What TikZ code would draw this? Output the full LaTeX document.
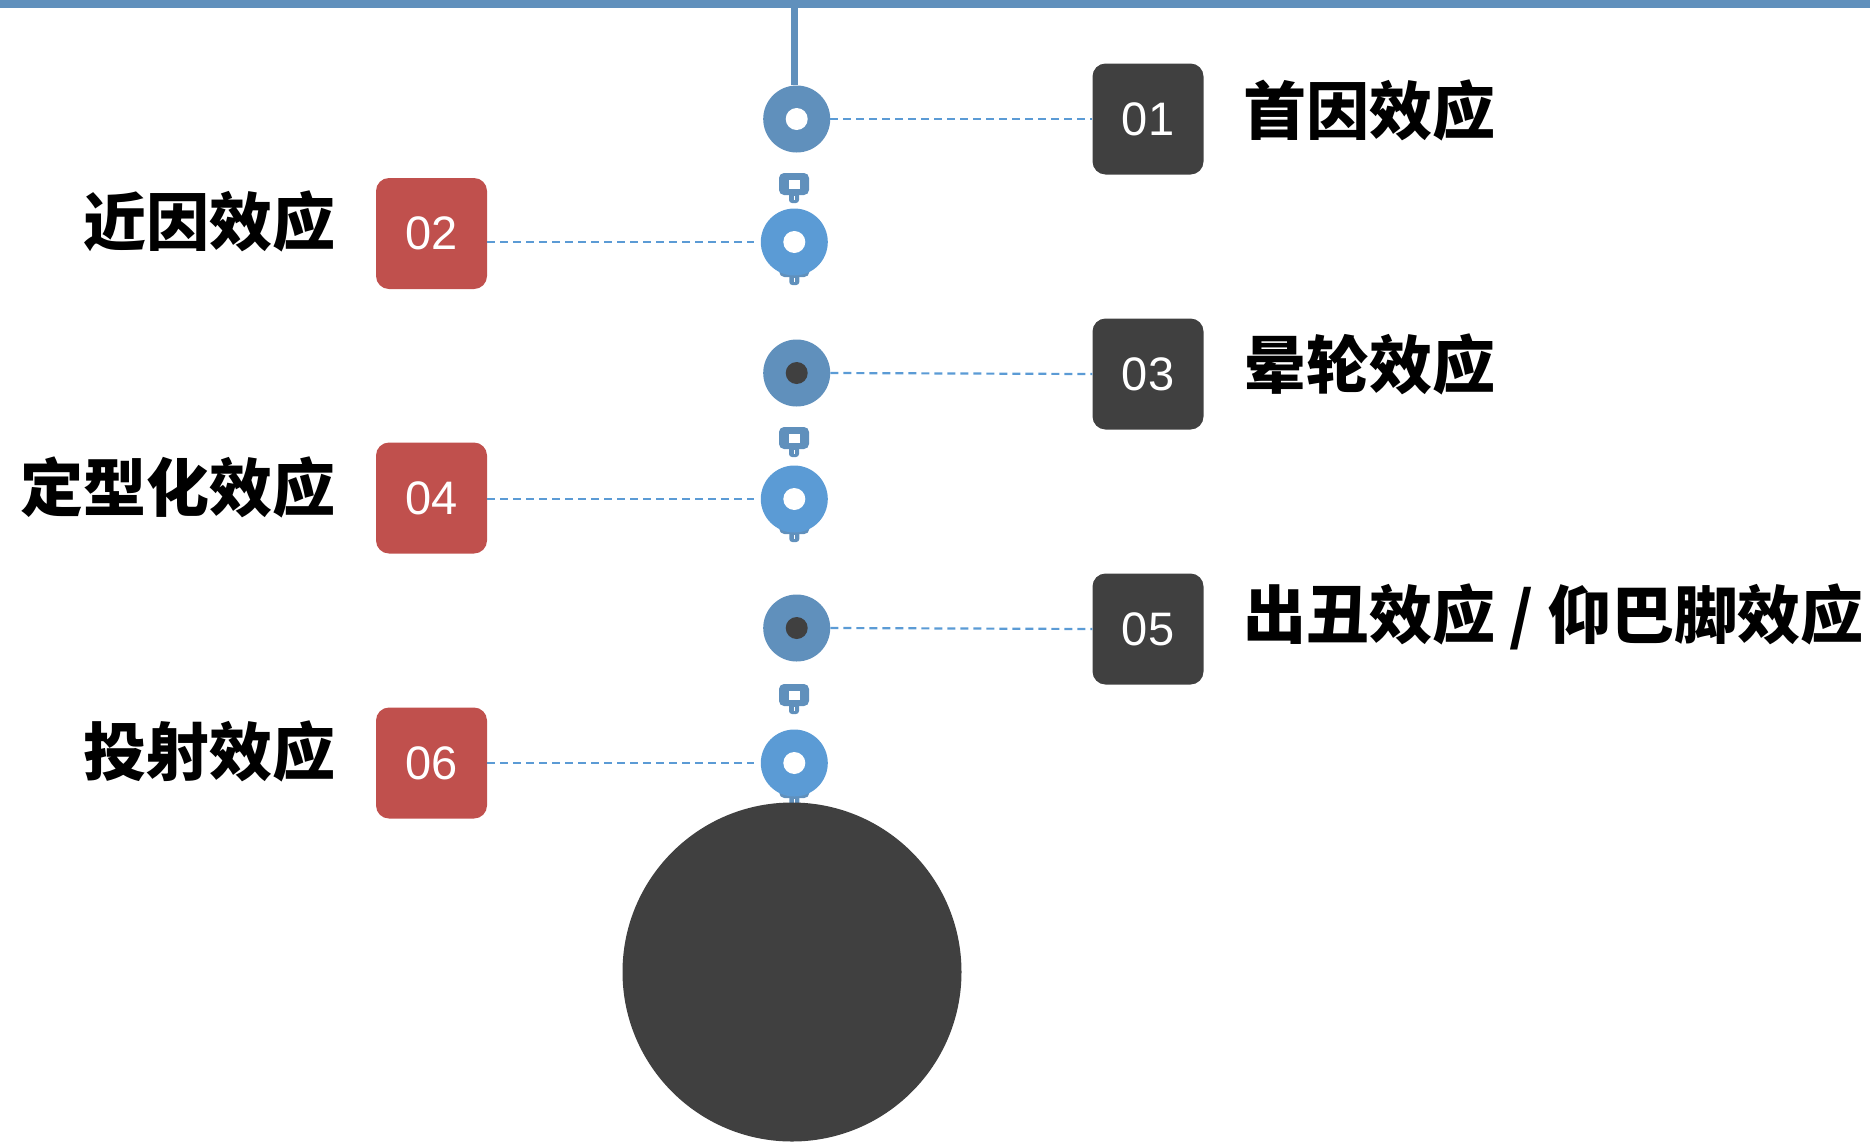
\documentclass[tikz,border=0pt]{standalone}
\usepackage{fontspec}
\newfontfamily\cjk{Noto Sans CJK SC Black}
\newfontfamily\numfont{Liberation Sans}
\definecolor{steel}{HTML}{6090BC}
\definecolor{lblue}{HTML}{5B9BD5}
\definecolor{dgray}{HTML}{404040}
\definecolor{rred}{HTML}{C0504D}
\begin{document}
\begin{tikzpicture}[x=1pt,y=-1pt,
 numbox/.style={rounded corners=13pt, minimum width=111pt, minimum height=111pt, inner sep=0pt, text=white, font=\numfont\fontsize{47}{47}\selectfont},
 darkbox/.style={numbox, fill=dgray},
 redbox/.style={numbox, fill=rred},
 ring/.style={circle, minimum size=67pt, inner sep=0pt},
 hole/.style={circle, minimum size=22pt, inner sep=0pt},
 lbl/.style={font=\cjk\fontsize{63}{63}\selectfont, inner sep=0pt, text=black},
 link/.style={dash pattern=on 8pt off 5pt, line width=2.2pt, draw=lblue},
 plug/.pic={
  \fill[steel, rounded corners=5pt] (-15,0) rectangle (15,22);
  \fill[steel, rounded corners=3pt] (-5,17) rectangle (5,30);
  \fill[white] (-5.5,7) rectangle (5.5,16);
  \draw[white, line width=1pt] (0,23) -- (0,27);
 }
]
\useasboundingbox (0,0) rectangle (1870,1141);
% top bar and stem
\fill[steel] (0,0) rectangle (1870,7.5);
\coordinate (top) at (794.5,7);
% plugs
\pic at (794,173) {plug};
\pic at (794,427) {plug};
\pic at (794,684) {plug};
\pic at (794.3,255) {plug};
\pic at (794.3,512) {plug};
\pic at (794.3,776) {plug};
% circles
\node[ring, fill=steel] (c1) at (796.7,119) {};
\node[ring, fill=lblue] (c2) at (794.3,242) {};
\node[ring, fill=steel] (c3) at (796.7,373) {};
\node[ring, fill=lblue] (c4) at (794.3,499) {};
\node[ring, fill=steel] (c5) at (796.7,628) {};
\node[ring, fill=lblue] (c6) at (794.3,763) {};
\draw[steel, line width=7pt] (top) -- (top |- c1.north);
\node[hole, fill=white] (h1) at (c1) {};
\node[hole, fill=white] (h2) at (c2) {};
\node[hole, fill=dgray] (h3) at (c3) {};
\node[hole, fill=white] (h4) at (c4) {};
\node[hole, fill=dgray] (h5) at (c5) {};
\node[hole, fill=white] (h6) at (c6) {};
% big circle
\node[circle, fill=dgray, minimum size=339pt, inner sep=0pt] (big) at (792,972) {};
% boxes
\node[darkbox] (b1) at (1148,119) {01};
\node[redbox] (b2) at (431.5,233.5) {02};
\node[darkbox] (b3) at (1148,374) {03};
\node[redbox] (b4) at (431.5,498) {04};
\node[darkbox] (b5) at (1148,629) {05};
\node[redbox] (b6) at (431.5,763) {06};
% connectors
\draw[link] (c1.east) -- (b1.west);
\draw[link] (c3.east) -- (b3.west);
\draw[link] (c5.east) -- (b5.west);
\draw[link, shorten >=7pt] (b2.east |- c2.center) -- (c2.west);
\draw[link, shorten >=7pt] (b4.east |- c4.center) -- (c4.west);
\draw[link, shorten >=7pt] (b6.east |- c6.center) -- (c6.west);
% labels
\node[lbl, anchor=west] (l1) at (1243,110) {首因效应};
\node[lbl, anchor=east] (l2) at (336,221) {近因效应};
\node[lbl, anchor=west] (l3) at (1243,364) {晕轮效应};
\node[lbl, anchor=east] (l4) at (336,487) {定型化效应};
\node[lbl, anchor=west] (l5) at (1243,617) {出丑效应 / 仰巴脚效应};
\node[lbl, anchor=east] (l6) at (336,751) {投射效应};
\end{tikzpicture}
\end{document}
